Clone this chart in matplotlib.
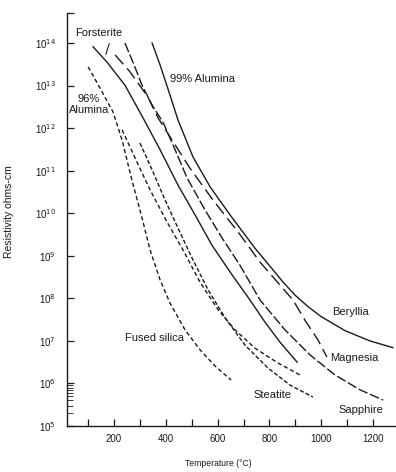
import matplotlib
matplotlib.use("Agg")
import matplotlib.pyplot as plt
import numpy as np

plt.rcParams['font.family'] = ['Liberation Sans', 'DejaVu Sans']

# temperature (deg C) and log10 resistivity (ohm-cm)
forsterite_t = [119, 173, 242, 312, 378, 447, 513, 578, 648, 725, 783, 841, 907]
forsterite_r = [13.91, 13.55, 13.01, 12.24, 11.49, 10.66, 9.96, 9.25, 8.62, 7.96, 7.44, 6.97, 6.50]

sapphire_t = [242, 273, 308, 347, 389, 436, 482, 551, 617, 686, 764, 860, 957, 1053, 1150, 1239]
sapphire_r = [14.0, 13.55, 13.01, 12.54, 12.14, 11.49, 10.83, 10.08, 9.42, 8.78, 7.96, 7.26, 6.67, 6.20, 5.85, 5.61]

magnesia_t = [204, 262, 331, 370, 424, 493, 582, 679, 764, 841, 891, 937, 988, 1022]
magnesia_r = [13.72, 13.32, 12.73, 12.24, 11.72, 11.06, 10.31, 9.56, 8.85, 8.31, 7.96, 7.49, 7.02, 6.62]

alumina99_t = [347, 378, 416, 447, 505, 571, 648, 744, 800, 850, 900, 950, 1000, 1092, 1188, 1277]
alumina99_r = [14.0, 13.48, 12.78, 12.19, 11.32, 10.62, 9.96, 9.18, 8.77, 8.40, 8.07, 7.80, 7.57, 7.24, 7.00, 6.84]

silica_t = [100, 146, 196, 231, 269, 308, 339, 378, 416, 474, 532, 590, 652]
silica_r = [13.44, 12.94, 12.38, 11.72, 10.78, 9.89, 9.14, 8.43, 7.89, 7.26, 6.79, 6.41, 6.08]

alumina96_t = [231, 281, 339, 405, 466, 532, 602, 667, 744, 833, 918]
alumina96_r = [11.96, 11.30, 10.55, 9.79, 9.14, 8.38, 7.73, 7.26, 6.83, 6.48, 6.20]

steatite_t = [300, 347, 397, 447, 501, 563, 629, 706, 795, 880, 968]
steatite_r = [11.65, 11.02, 10.31, 9.65, 8.95, 8.20, 7.54, 6.90, 6.36, 5.96, 5.68]

x_ticks = list(range(100, 1201, 100))
y_exponents = list(range(5, 15))

ink = '#1a1a1a'

fig = plt.figure(figsize=(3.96, 4.72), dpi=100)
ax = fig.add_axes([0.169, 0.0975, 0.831, 0.8745])

def draw(t, r, dashes=None, lw=1.0):
    line, = ax.plot(t, 10.0 ** np.array(r), color=ink, lw=lw)
    if dashes is not None:
        line.set_dashes(dashes)

draw(forsterite_t, forsterite_r)
draw(sapphire_t, sapphire_r, dashes=(7, 2))
draw(magnesia_t, magnesia_r, dashes=(9, 4))
draw(alumina99_t, alumina99_r)
draw(silica_t, silica_r, dashes=(3, 2))
draw(alumina96_t, alumina96_r, dashes=(3, 2))
draw(steatite_t, steatite_r, dashes=(3, 1.5))

ax.set_yscale('log')
ax.set_xlim(18, 1289)
ax.set_ylim(1e5, 10 ** 14.7)

for side in ('top', 'right'):
    ax.spines[side].set_visible(False)
for side in ('left', 'bottom'):
    ax.spines[side].set_linewidth(1.0)
    ax.spines[side].set_color(ink)

ax.set_yticks([10.0 ** e for e in y_exponents] + [10 ** 14.7])
ax.set_yticklabels(['10$^{%d}$' % e for e in y_exponents] + [''])
ax.set_yticks([k * 1e5 for k in range(2, 10)], minor=True)
ax.set_yticklabels([], minor=True)
ax.set_xticks(x_ticks)
ax.set_xticklabels(['' if t % 200 else str(t) for t in x_ticks])
ax.tick_params(axis='both', which='major', direction='in', length=5, width=0.9,
               color=ink, labelsize=7, labelcolor=ink)
ax.tick_params(axis='y', which='minor', direction='in', length=4, width=0.6, color=ink)
ax.tick_params(axis='x', pad=6)
ax.tick_params(axis='y', pad=8)

ax.set_ylabel('Resistivity ohms-cm', fontsize=7.5, color=ink)
ax.yaxis.set_label_coords(-0.16, 0.52)
ax.set_xlabel('Temperature (°C)', fontsize=6.2, color=ink)
ax.xaxis.set_label_coords(0.46, -0.081)

txt = dict(fontsize=8, color=ink)
ax.text(49, 10 ** 14.23, 'Forsterite', va='center', ha='left', **txt)
ax.annotate('', xy=(165, 10 ** 13.67), xytext=(185, 10 ** 14.05),
            arrowprops=dict(arrowstyle='-', color=ink, lw=0.8))
ax.text(416, 10 ** 13.15, '99% Alumina', va='center', ha='left', **txt)
ax.text(102, 10 ** 12.55, '96%\nAlumina', va='center', ha='center', linespacing=1.1, **txt)
ax.text(243, 10 ** 7.07, 'Fused silica', va='center', ha='left', **txt)
ax.text(737, 10 ** 5.73, 'Steatite', va='center', ha='left', **txt)
ax.text(1066, 10 ** 5.38, 'Sapphire', va='center', ha='left', **txt)
ax.text(1035, 10 ** 6.60, 'Magnesia', va='center', ha='left', **txt)
ax.text(1043, 10 ** 7.68, 'Beryllia', va='center', ha='left', **txt)

fig.savefig('out.png', dpi=100)
